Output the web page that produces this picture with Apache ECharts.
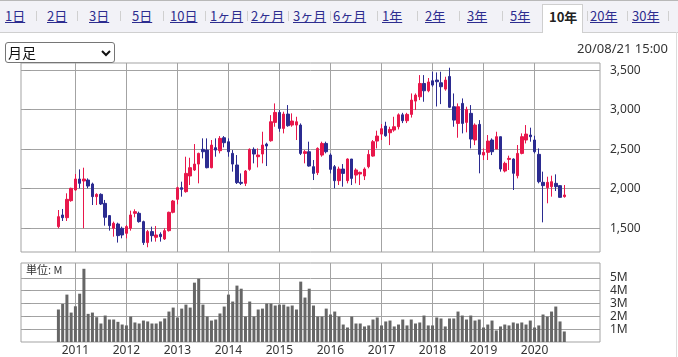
<!DOCTYPE html>
<html><head><meta charset="utf-8">
<script src="https://cdn.jsdelivr.net/npm/echarts@6/dist/echarts.min.js"></script>
<style>
html,body{margin:0;padding:0;background:#fff;width:678px;height:357px;overflow:hidden;font-family:"Noto Sans CJK JP","Noto Sans",sans-serif;}
#chart{position:absolute;left:0;top:0;width:678px;height:357px;}
#bar{position:absolute;left:0;top:0;width:678px;height:33px;background:#f2f2f7;border-top:1px solid #b8b8b8;border-bottom:1px solid #cfcfcf;box-sizing:border-box;}
.tab{position:absolute;top:8px;font-size:13px;line-height:16px;color:#2d2d8f;text-decoration:underline;white-space:nowrap;}
.sep{position:absolute;top:11px;width:1px;height:10px;background:#d0d0d0;}
#selTab{position:absolute;left:542px;top:4px;width:41px;height:29px;background:#fff;border:1px solid #cfcfcf;border-bottom:none;box-sizing:border-box;}
#selTab span{position:absolute;left:6px;top:4px;font-size:13px;line-height:16px;font-weight:bold;color:#222;white-space:nowrap;}
#rb{position:absolute;left:676px;top:32px;width:1px;height:325px;background:#dcdcdc;}
#sel{position:absolute;left:5px;top:42px;width:110px;height:21px;border:1px solid #767676;border-radius:3px;box-sizing:border-box;background:#fff;}
#sel span{position:absolute;left:2px;top:0px;font-size:14px;line-height:19px;color:#111;}
#sel svg{position:absolute;left:95px;top:6px;}
#date{position:absolute;right:10px;top:40px;font-family:"Noto Sans",sans-serif;font-size:13px;line-height:16px;color:#333;}
</style></head>
<body>
<div id="chart"></div>
<div id="bar"></div>
<div id="tabsHost"></div>
<div id="rb"></div>
<div id="sel"><span>月足</span><svg width="10" height="8" viewBox="0 0 10 8"><path d="M1 2 L5 6 L9 2" stroke="#111" stroke-width="2" fill="none"/></svg></div>
<div id="date">20/08/21 15:00</div>
<script>
// ---- data ----
const tabLabels = ["1日","2日","3日","5日","10日","1ヶ月","2ヶ月","3ヶ月","6ヶ月","1年","2年","3年","5年","10年","20年","30年"];
const selectedTab = "10年";
const firstMonth = "2010-09";
const openP = [1521,1668,1634,1849,1984,2123,2098,2110,2060,1900,1929,1815,1660,1500,1554,1500,1436,1500,1689,1689,1584,1319,1458,1386,1424,1365,1470,1702,1866,2013,1963,2161,2237,2312,2498,2489,2266,2519,2481,2645,2594,2447,2300,2081,2068,2245,2498,2405,2439,2565,2607,2839,2965,2763,2944,2805,2805,2805,2447,2468,2279,2203,2426,2573,2426,2279,2102,2249,2102,2376,2173,2186,2161,2279,2413,2603,2691,2792,2708,2742,2784,2935,2860,2940,3108,3163,3331,3239,3365,3374,3340,3260,3420,3037,2826,3079,2839,2953,2616,2814,2426,2460,2616,2502,2658,2224,2371,2376,2165,2447,2616,2679,2616,2435,2081,2013,2026,2068,2039,1900];
const highP = [1731,1744,1942,2013,2186,2245,2266,2131,2077,1942,1942,1858,1668,1584,1571,1521,1542,1723,1740,1710,1596,1479,1521,1529,1449,1500,1710,1858,2026,2089,2405,2392,2565,2456,2637,2637,2616,2637,2666,2666,2637,2489,2426,2194,2237,2510,2523,2510,2721,2582,2931,3079,2995,2974,3058,2953,2910,2826,2489,2595,2363,2523,2595,2595,2447,2300,2279,2312,2384,2376,2258,2216,2270,2489,2616,2734,2818,2847,2784,2910,2953,2960,2960,3205,3205,3437,3437,3400,3479,3471,3479,3416,3530,3205,3079,3142,3037,3058,2826,2868,2510,2679,2637,2721,2658,2342,2418,2384,2553,2700,2805,2772,2670,2510,2216,2152,2165,2182,2047,2047];
const lowP = [1500,1592,1592,1836,1975,2005,1500,2005,1794,1794,1794,1533,1470,1394,1319,1373,1373,1470,1639,1571,1289,1260,1331,1331,1331,1352,1458,1689,1803,1900,1950,2047,2224,2068,2384,2258,2258,2405,2447,2523,2405,2216,2060,2047,2034,2228,2321,2270,2321,2287,2595,2784,2721,2700,2784,2784,2616,2426,2321,2279,2110,2173,2405,2447,2194,2005,2047,2026,2068,2047,2068,2047,2110,2258,2405,2510,2616,2658,2552,2721,2750,2830,2830,2900,2995,3121,3100,3220,3290,3040,3070,3240,3024,2784,2645,2700,2713,2510,2552,2195,2363,2363,2426,2502,2216,2207,2237,1984,2131,2435,2573,2595,2447,2068,1575,1816,1900,1971,1887,1887];
const closeP = [1647,1634,1866,2005,2123,2068,2123,2034,1900,1929,1807,1639,1533,1563,1407,1415,1521,1668,1710,1584,1319,1458,1407,1415,1394,1470,1702,1845,2013,1992,2194,2266,2312,2447,2468,2266,2552,2489,2637,2582,2468,2312,2077,2068,2224,2498,2439,2426,2552,2540,2847,2965,2763,2944,2797,2856,2847,2447,2468,2287,2194,2510,2573,2468,2245,2102,2249,2194,2376,2131,2237,2207,2249,2434,2595,2666,2759,2670,2750,2784,2935,2860,2940,3121,3184,3331,3239,3350,3311,3353,3290,3374,3030,2868,3037,2826,3003,2628,2805,2435,2460,2603,2468,2658,2249,2321,2384,2195,2447,2658,2691,2658,2468,2089,2039,2081,2089,2026,1891,1921];
const volumeM = [2.53,2.96,3.69,2.29,2.78,3.76,5.70,2.19,2.29,1.93,1.44,2.06,1.75,1.75,1.57,1.36,1.29,1.98,1.52,1.44,1.67,1.60,1.44,1.44,1.60,1.83,2.37,2.68,1.91,2.60,2.91,2.68,4.62,4.93,2.91,1.98,1.67,1.75,2.22,2.76,3.69,3.15,4.39,4.15,1.98,3.15,1.98,2.53,2.60,2.99,2.99,2.84,2.91,2.91,2.76,2.84,2.53,4.70,3.46,4.15,2.84,1.98,1.98,2.60,2.14,2.37,1.98,1.36,1.13,1.98,1.44,1.44,1.21,1.29,1.75,1.91,1.29,1.60,1.67,1.21,1.36,1.75,1.29,1.75,1.44,1.52,2.06,1.29,1.29,1.91,1.83,1.21,1.83,1.83,2.37,2.06,1.75,2.06,1.67,1.75,1.13,1.36,1.67,0.90,1.21,1.36,1.29,1.52,1.44,1.52,1.36,1.67,1.13,1.29,2.14,1.98,2.37,2.76,1.60,0.82];
const yearTicks = [2011,2012,2013,2014,2015,2016,2017,2018,2019,2020];
const priceTicks = [1500,2000,2500,3000,3500];
const volumeTicks = [1,2,3,4,5];
const dateText = "20/08/21 15:00";
const unitText = "単位: M";

// ---- tabs (html) ----
const tabLeft = [5,47,89,132,170,210,251,293,333,382,425,467,510,548,590,632];
const sepX = [36,77,120,163,205,247,288,330,377,417,459,502,587,627,668];
const host = document.getElementById('tabsHost');
tabLabels.forEach((t,i)=>{
  if (t === selectedTab) {
    const d = document.createElement('div'); d.id='selTab';
    const s = document.createElement('span'); s.textContent = t; d.appendChild(s); host.appendChild(d);
  } else {
    const s = document.createElement('span'); s.className='tab'; s.textContent=t; s.style.left=tabLeft[i]+'px'; host.appendChild(s);
  }
});
sepX.forEach(x=>{const d=document.createElement('div');d.className='sep';d.style.left=x+'px';host.appendChild(d);});
document.getElementById('date').textContent = dateText;

// ---- chart ----
const [fy, fm] = firstMonth.split('-').map(Number);
const baseYear = 2010;
const xOf = i => (fy - baseYear) * 12 + (fm - 1) + i;
const candleData = openP.map((o,i)=>[xOf(i), o, closeP[i], lowP[i], highP[i]]);
const volData = volumeM.map((v,i)=>[xOf(i), v]);
const yearVals = yearTicks.map(y => (y - baseYear) * 12);

const RED = '#e8174b', BLUE = '#2b2b90', GRID = '#a3a3a3';
const chart = echarts.init(document.getElementById('chart'), null, {renderer:'canvas'});
const xCommon = {type:'value', min:-0.8, max:135.4,
  axisLine:{show:false}, axisTick:{show:false, customValues:yearVals},
  splitLine:{show:true, lineStyle:{color:GRID, width:1}}};
chart.setOption({
  animation:false,
  grid:[
    {left:21, top:63, width:579, height:189, show:true, borderColor:GRID, borderWidth:1},
    {left:21, top:263, width:579, height:79, show:true, borderColor:GRID, borderWidth:1}
  ],
  xAxis:[
    Object.assign({}, xCommon, {gridIndex:0, axisLabel:{show:false, customValues:yearVals}}),
    Object.assign({}, xCommon, {gridIndex:1, axisLabel:{show:true, customValues:yearVals, margin:3,
      color:'#333', fontSize:12, fontFamily:'Noto Sans', formatter:v=>String(baseYear + Math.round(v/12))}})
  ],
  yAxis:[
    {gridIndex:0, type:'value', position:'right', min:1200, max:3590,
     axisLine:{show:false}, axisTick:{show:true, length:6, customValues:priceTicks, lineStyle:{color:'#999'}},
     axisLabel:{customValues:priceTicks, margin:10, color:'#333', fontSize:12, fontFamily:'Noto Sans',
       formatter:v=>v.toLocaleString('en-US')},
     splitLine:{show:true, lineStyle:{color:GRID, width:1}}},
    {gridIndex:1, type:'value', position:'right', min:0, max:6.15,
     axisLine:{show:false}, axisTick:{show:true, length:6, customValues:volumeTicks, lineStyle:{color:'#999'}},
     axisLabel:{customValues:volumeTicks, margin:10, color:'#333', fontSize:12, fontFamily:'Noto Sans',
       formatter:v=>v+'M'},
     splitLine:{show:true, lineStyle:{color:GRID, width:1}}}
  ],
  graphic:[
    {type:'text', left:26, top:264, style:{text:unitText, fontSize:11, fontFamily:'Noto Sans CJK JP', fill:'#333'}}
  ],
  series:[
    {type:'candlestick', xAxisIndex:0, yAxisIndex:0, data:candleData, encode:{x:0, y:[1,2,3,4]},
     barWidth:3, itemStyle:{color:RED, color0:BLUE, borderColor:RED, borderColor0:BLUE, borderWidth:1}},
    {type:'bar', xAxisIndex:1, yAxisIndex:1, data:volData, barWidth:3, itemStyle:{color:'#666'}}
  ]
});
</script>
</body></html>
